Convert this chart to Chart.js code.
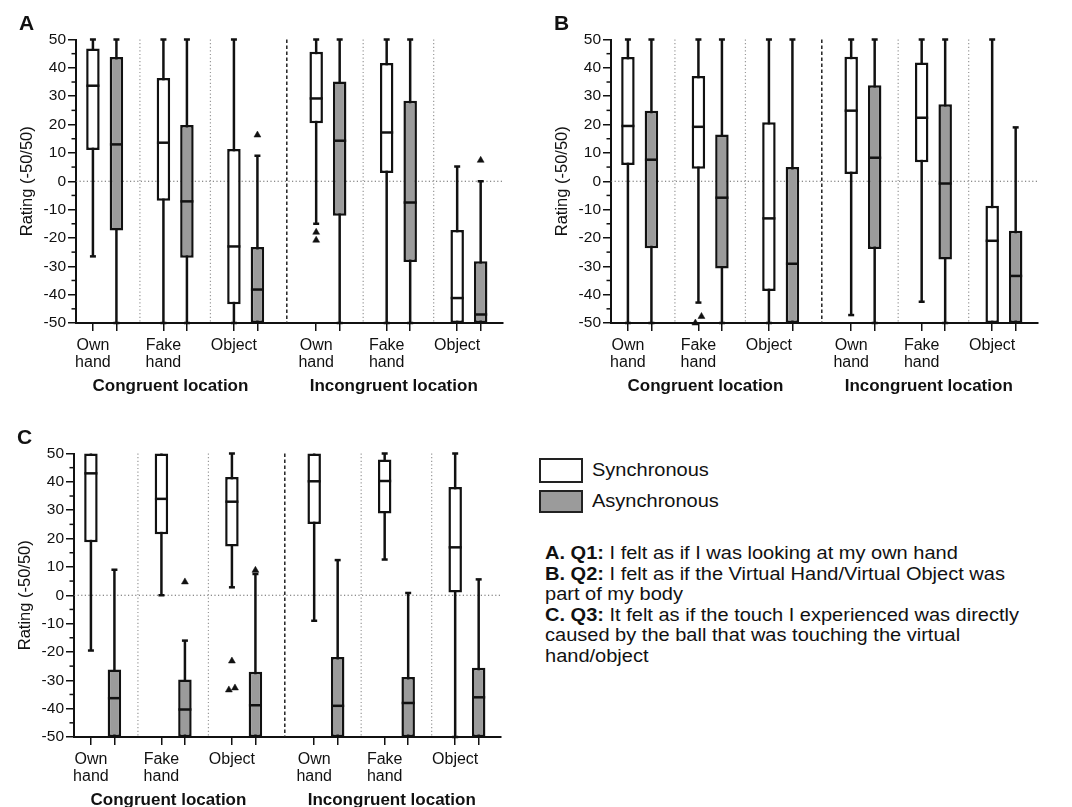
<!DOCTYPE html>
<html>
<head>
<meta charset="utf-8">
<script src="https://cdn.jsdelivr.net/npm/chart.js@4.4.0/dist/chart.umd.min.js"></script>
<style>
  html, body { margin: 0; padding: 0; background: #fff; }
  body { width: 1072px; height: 807px; position: relative; overflow: hidden; font-family: 'Liberation Sans', Arial, sans-serif; color: #111; }
  canvas { position: absolute; }
  .key { position: absolute; left: 539px; width: 44px; border: 2px solid #222; box-sizing: border-box; }
  .keytext, .notes { position: absolute; font-size: 17.5px; transform: scaleX(1.144); transform-origin: left top; white-space: nowrap; }
  .notes { left: 545px; top: 543px; line-height: 20.6px; }
</style>
</head>
<body>
<canvas id="panelA" width="536" height="405" style="left:0;top:0"></canvas>
<canvas id="panelB" width="536" height="405" style="left:535px;top:0"></canvas>
<canvas id="panelC" width="536" height="405" style="left:-2px;top:414px"></canvas>

<div class="key" style="top:458px;height:25px;background:#fff"></div>
<div class="key" style="top:490px;height:23px;background:#9b9b9b"></div>
<div class="keytext" style="left:592px;top:460px">Synchronous</div>
<div class="keytext" style="left:592px;top:491px">Asynchronous</div>
<div class="notes">
  <b>A. Q1:</b> I felt as if I was looking at my own hand<br>
  <b>B. Q2:</b> I felt as if the Virtual Hand/Virtual Object was<br>
  part of my body<br>
  <b>C. Q3:</b> It felt as if the touch I experienced was directly<br>
  caused by the ball that was touching the virtual<br>
  hand/object
</div>

<script>
// Tick labels under each pair and the two location groups
const handLabels = [['Own', 'hand'], ['Fake', 'hand'], ['Object']];
const locations = ['Congruent location', 'Incongruent location'];

// One box per condition: [whisker low, Q1, median, Q3, whisker high]
// order: congruent own / fake / object, incongruent own / fake / object
const aSync = [[-26.5, 11, 33.7, 46.8, 50], [-50, -6.9, 13.6, 36.4, 50], [-50, -43.4, -23, 11.4, 50],
               [-15, 20.5, 29.2, 45.7, 50], [-50, 2.9, 17.2, 41.7, 50], [-50, -50, -41.2, -17.2, 5.2]];
const aAsync = [[-50, -17.4, 13, 43.8, 50], [-50, -27, -7.1, 19.8, 50], [-50, -50, -38.2, -23.2, 9],
                [-50, -12.2, 14.3, 35.2, 50], [-50, -28.5, -7.5, 28.4, 50], [-50, -50, -47, -28.2, 0]];
const aSyncOut = [[], [], [], [-18, -20.8], [], []];
const aAsyncOut = [[], [], [16.3], [], [], [7.4]];

const bSync = [[-50, 5.7, 19.5, 43.8, 50], [-42.8, 4.4, 19.2, 37.1, 50], [-50, -38.7, -13.1, 20.8, 50],
               [-47.2, 2.6, 24.9, 43.9, 50], [-42.5, 6.7, 22.4, 41.9, 50], [-50, -50, -21, -8.6, 50]];
const bAsync = [[-50, -23.6, 7.6, 24.9, 50], [-50, -30.8, -5.8, 16.5, 50], [-50, -50, -29.1, 5, 50],
                [-50, -23.9, 8.3, 33.9, 50], [-50, -27.6, -0.8, 27.2, 50], [-50, -50, -33.4, -17.5, 19]];
const bSyncOut = [[], [-50, -47.7], [], [], [], []];
const bAsyncOut = [[], [], [], [], [], []];

const cSync = [[-19.5, 18.7, 43, 50, 50], [0, 21.5, 34, 50, 50], [2.8, 17.2, 33, 41.7, 50],
               [-9, 25.1, 40.2, 50, 50], [12.6, 28.8, 40.3, 47.9, 50], [-50, 1, 16.9, 38.2, 50]];
const cAsync = [[-50, -50, -36.3, -26.2, 9], [-50, -50, -40.3, -29.7, -16], [-50, -50, -38.8, -27, 7.5],
                [-50, -50, -39, -21.8, 12.4], [-50, -50, -38, -28.8, 0.8], [-50, -50, -36, -25.6, 5.6]];
const cSyncOut = [[], [], [-23.2, -33.4, -32.7], [], [], []];
const cAsyncOut = [[], [4.7], [8.8], [], [], []];

Chart.defaults.font.family = "'Liberation Sans', Arial, sans-serif";
Chart.defaults.color = '#111';

const INK = '#111';
const GREY = '#9b9b9b';

// x slot of a box: 3 slots per hand type, a little extra gap between locations
function boxX(g, s) {
    return g * 3 + (g > 2 ? 0.5 : 0) + s;
}

// outliers that nearly overlap are set side by side
function outlierPoints(outs, s) {
    var pts = [];
    outs.forEach((list, g) => {
        var sorted = list.slice().sort((a, b) => a - b);
        sorted.forEach((v, k) => {
            var dx = 0;
            if (k + 1 < sorted.length && sorted[k + 1] - v < 2.4) dx = -0.13;
            else if (k > 0 && v - sorted[k - 1] < 2.4) dx = 0.13;
            pts.push({x: boxX(g, s) + dx, y: v});
        });
    });
    return pts;
}

function makePanel(id, letter, sync, async, syncOut, asyncOut) {
    var whiskers = [], syncBoxes = [], asyncBoxes = [], medians = [], caps = [], tickXs = [];
    [sync, async].forEach((series, s) => {
        series.forEach((d, g) => {
            var x = boxX(g, s);
            whiskers.push({x: x, y: [d[0], d[4]]});
            (s === 0 ? syncBoxes : asyncBoxes).push({x: x, y: [d[1], d[3]]});
            medians.push({x: x, y: d[2]});
            // caps only where the whisker sticks out of the box
            if (d[0] < d[1]) caps.push({x: x, y: d[0]});
            if (d[4] > d[3]) caps.push({x: x, y: d[4]});
        });
    });
    for (var g = 0; g < 6; g++) tickXs.push(boxX(g, 0), boxX(g, 1));
    var outliers = outlierPoints(syncOut, 0).concat(outlierPoints(asyncOut, 1));

    // separators, zero line, minor ticks, group names and panel letter
    var decor = {
        id: 'decor',
        beforeDatasetsDraw(chart) {
            var ctx = chart.ctx, area = chart.chartArea;
            var xs = chart.scales.x, ys = chart.scales.y;
            ctx.save();
            ctx.lineWidth = 1.2;
            ctx.strokeStyle = '#666';
            ctx.setLineDash([1.2, 2.4]);
            var y0 = ys.getPixelForValue(0);
            ctx.beginPath();
            ctx.moveTo(area.left, y0);
            ctx.lineTo(area.right, y0);
            ctx.stroke();
            for (var g = 0; g < 5; g++) {
                var px = xs.getPixelForValue((boxX(g, 1) + boxX(g + 1, 0)) / 2);
                if (g === 2) {
                    ctx.strokeStyle = '#222';
                    ctx.lineWidth = 1.5;
                    ctx.setLineDash([3.5, 2.5]);
                } else {
                    ctx.strokeStyle = '#999';
                    ctx.lineWidth = 1.2;
                    ctx.setLineDash([1.2, 2.4]);
                }
                ctx.beginPath();
                ctx.moveTo(px, area.top);
                ctx.lineTo(px, area.bottom);
                ctx.stroke();
            }
            ctx.restore();
        },
        afterDraw(chart) {
            var ctx = chart.ctx, area = chart.chartArea;
            var xs = chart.scales.x, ys = chart.scales.y;
            ctx.save();
            ctx.strokeStyle = INK;
            ctx.lineWidth = 1.5;
            for (var v = -45; v <= 45; v += 10) {
                var py = ys.getPixelForValue(v);
                ctx.beginPath();
                ctx.moveTo(area.left - 4.5, py);
                ctx.lineTo(area.left, py);
                ctx.stroke();
            }
            ctx.fillStyle = INK;
            ctx.textAlign = 'center';
            ctx.textBaseline = 'middle';
            ctx.font = "bold 17px 'Liberation Sans', Arial, sans-serif";
            locations.forEach((name, i) => {
                var mid = (boxX(i * 3, 0) + boxX(i * 3 + 2, 1)) / 2 - 0.2;
                ctx.fillText(name, xs.getPixelForValue(mid), area.bottom + 63);
            });
            ctx.textAlign = 'left';
            ctx.textBaseline = 'alphabetic';
            ctx.font = "bold 21px 'Liberation Sans', Arial, sans-serif";
            ctx.fillText(letter, area.left - 57, area.top - 9.5);
            ctx.restore();
        }
    };

    new Chart(document.getElementById(id), {
        type: 'bar',
        data: {
            datasets: [
                {type: 'bar', data: whiskers, backgroundColor: INK, borderWidth: 0,
                 grouped: false, maxBarThickness: 2.5, order: 5, clip: false},
                {type: 'bar', data: syncBoxes, backgroundColor: '#fff', borderColor: INK, borderWidth: 2.5,
                 borderSkipped: false, grouped: false, maxBarThickness: 13.5, order: 4, clip: false},
                {type: 'bar', data: asyncBoxes, backgroundColor: GREY, borderColor: INK, borderWidth: 2.5,
                 borderSkipped: false, grouped: false, maxBarThickness: 13.5, order: 4, clip: false},
                {type: 'scatter', data: medians, pointStyle: 'line', pointRadius: 6.5,
                 pointBorderWidth: 2.5, pointBorderColor: INK, order: 3, clip: false},
                {type: 'scatter', data: caps, pointStyle: 'line', pointRadius: 3,
                 pointBorderWidth: 2.5, pointBorderColor: INK, order: 3, clip: false},
                {type: 'scatter', data: outliers, pointStyle: 'triangle', pointRadius: 4,
                 pointBackgroundColor: INK, pointBorderColor: INK, pointBorderWidth: 0.5, order: 2, clip: false}
            ]
        },
        options: {
            responsive: false,
            animation: false,
            layout: {padding: {left: 18, right: 33, top: 39.5, bottom: 0}},
            plugins: {legend: {display: false}, tooltip: {enabled: false}},
            scales: {
                x: {
                    type: 'linear',
                    min: boxX(0, 0) - 0.72,
                    max: boxX(5, 1) + 0.95,
                    offset: false,
                    afterBuildTicks: (scale) => { scale.ticks = tickXs.map((v) => ({value: v})); },
                    afterFit: (scale) => { scale.height = 82; },
                    ticks: {
                        autoSkip: false,
                        maxRotation: 0,
                        padding: 6,
                        font: {size: 16, lineHeight: 1.08},
                        color: INK,
                        callback: (value, index) => (index % 2 === 0 ? handLabels[(index / 2) % 3] : '')
                    },
                    grid: {offset: false, drawOnChartArea: false, tickLength: 8, tickColor: INK, lineWidth: 1.5},
                    border: {color: INK, width: 2}
                },
                y: {
                    min: -50,
                    max: 50,
                    afterFit: (scale) => { scale.width = 58; },
                    ticks: {stepSize: 10, padding: 2, font: {size: 15.5}, color: INK},
                    grid: {drawOnChartArea: false, tickLength: 8, tickColor: INK, lineWidth: 1.5},
                    border: {color: INK, width: 2},
                    title: {display: true, text: 'Rating (-50/50)', font: {size: 16.5}, color: INK, padding: 0}
                }
            }
        },
        plugins: [decor]
    });
}

makePanel('panelA', 'A', aSync, aAsync, aSyncOut, aAsyncOut);
makePanel('panelB', 'B', bSync, bAsync, bSyncOut, bAsyncOut);
makePanel('panelC', 'C', cSync, cAsync, cSyncOut, cAsyncOut);
</script>
</body>
</html>
